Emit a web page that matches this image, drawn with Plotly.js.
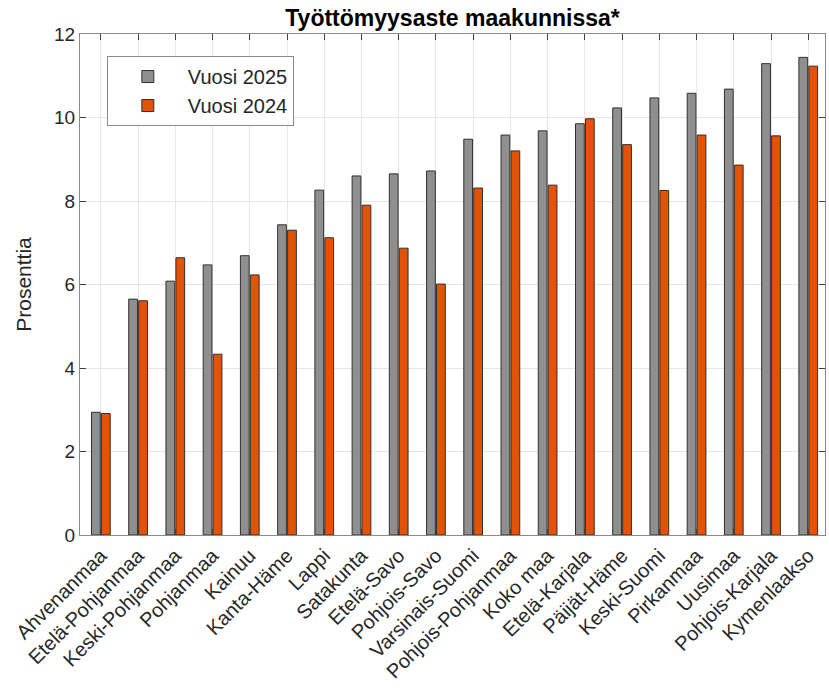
<!DOCTYPE html>
<html><head><meta charset="utf-8">
<script src="https://cdn.plot.ly/plotly-3.0.1.min.js"></script>
<style>body{margin:0;background:#fff}#c{width:829px;height:699px}</style>
</head><body><div id="c"></div>
<script>
const regions = ["Ahvenanmaa","Etelä-Pohjanmaa","Keski-Pohjanmaa","Pohjanmaa","Kainuu","Kanta-Häme","Lappi","Satakunta","Etelä-Savo","Pohjois-Savo","Varsinais-Suomi","Pohjois-Pohjanmaa","Koko maa","Etelä-Karjala","Päijät-Häme","Keski-Suomi","Pirkanmaa","Uusimaa","Pohjois-Karjala","Kymenlaakso"];
const values2025 = [2.94,5.65,6.08,6.47,6.69,7.43,8.26,8.60,8.65,8.72,9.48,9.58,9.68,9.85,10.23,10.47,10.58,10.68,11.29,11.44];
const values2024 = [2.91,5.61,6.64,4.33,6.23,7.30,7.12,7.90,6.87,6.01,8.31,9.20,8.38,9.97,9.35,8.25,9.58,8.86,9.56,11.23];
const yTicks = [0,2,4,6,8,10,12];

const font = 'Arial, "Liberation Sans", sans-serif';
const traces = [
  {type:'bar', name:'Vuosi 2025', x:regions, y:values2025,
   marker:{color:'#8f8f8f', line:{color:'#303030', width:1}}},
  {type:'bar', name:'Vuosi 2024', x:regions, y:values2024,
   marker:{color:'#e35205', line:{color:'#303030', width:1}}}
];
const axisCommon = {showline:true, mirror:'ticks', linecolor:'#8a8a8a', linewidth:1,
  ticks:'inside', ticklen:6, tickcolor:'#404040', showgrid:true, gridcolor:'#e6e6e6', gridwidth:1, zeroline:false};
const layout = {
  width:829, height:699,
  margin:{l:80, r:4, t:34, b:164},
  paper_bgcolor:'#fff', plot_bgcolor:'#fff',
  font:{family:font, size:19, color:'#262626'},
  title:{text:'<b>Työttömyysaste maakunnissa*</b>', x:0.5, xref:'paper', xanchor:'center', y:0.975, yanchor:'middle',
         font:{family:font, size:23, color:'#000'}},
  barmode:'group', bargap:0.465, bargroupgap:0.12,
  showlegend:true,
  legend:{x:0.036, y:0.956, xanchor:'left', yanchor:'top', bgcolor:'#fff', bordercolor:'#8a8a8a', borderwidth:1,
          font:{family:font, size:20, color:'#262626'}, itemwidth:70, tracegroupgap:0},
  xaxis:Object.assign({}, axisCommon, {type:'category', range:[-0.56,19.45], tickangle:-45,
          tickfont:{family:font, size:20, color:'#262626'}}),
  yaxis:Object.assign({}, axisCommon, {range:[0,12], tickvals:yTicks, ticktext:yTicks.map(String),
          tickfont:{family:font, size:19, color:'#262626'},
          title:{text:'Prosenttia', font:{family:font, size:21, color:'#262626'}, standoff:16}})
};
Plotly.newPlot('c', traces, layout, {displayModeBar:false, staticPlot:true});
</script></body></html>
